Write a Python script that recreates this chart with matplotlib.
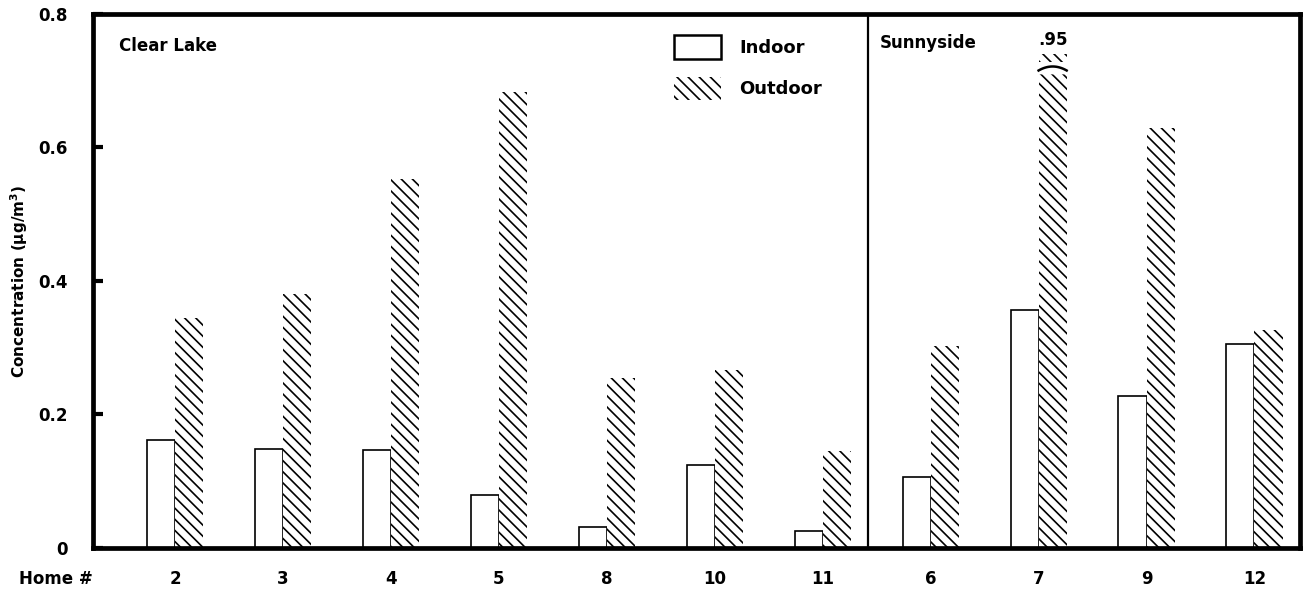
import numpy as np
import matplotlib.pyplot as plt
from matplotlib.patches import Patch, Rectangle

plt.rcParams['font.family'] = ['DejaVu Sans']
plt.rcParams['font.weight'] = 'bold'
plt.rcParams['hatch.linewidth'] = 1.2

homes = ['2', '3', '4', '5', '8', '10', '11', '6', '7', '9', '12']
indoor = [0.162, 0.149, 0.147, 0.080, 0.032, 0.125, 0.026, 0.107, 0.357, 0.228, 0.305]
outdoor = [0.345, 0.381, 0.552, 0.683, 0.254, 0.267, 0.146, 0.303, 0.95, 0.629, 0.326]
sites = ['Clear Lake', 'Sunnyside']
n_clear = 7
ycap = 0.715  # bars taller than this are drawn broken

x = np.arange(len(homes))
w = 0.26

fig = plt.figure(figsize=(13.09, 5.97), dpi=100)
ax = fig.add_axes([0.071, 0.082, 0.922, 0.895])

ax.bar(x - w/2, indoor, w, facecolor='white', edgecolor='black', linewidth=1.2)
shown = np.minimum(outdoor, ycap)
ax.bar(x + w/2, shown, w, facecolor='white', edgecolor='black', linewidth=0, hatch='\\\\\\')

# broken bar marker for values off the scale
for xi, v in zip(x, outdoor):
    if v > ycap:
        xs = np.linspace(xi, xi + w, 30)
        t = (xs - xi - w/2) / (w/2)
        ax.fill_between(xs, ycap - 0.004, ycap + 0.006 * (1 - t**2), color='white', zorder=3)
        ax.plot(xs, ycap + 0.006 * (1 - t**2), color='black', lw=1.8, zorder=4)
        ax.add_patch(Rectangle((xi, ycap + 0.012), w, 0.012, facecolor='white',
                               edgecolor='black', linewidth=0, hatch='\\\\\\', zorder=2))
        ax.text(xi + w/2, ycap + 0.032, '.' + f'{v:.2f}'.split('.')[1], ha='center',
                va='bottom', fontsize=12, fontweight='bold')

ax.axvline(n_clear - 0.58, color='black', lw=1.6)

ax.set_xlim(-0.76, 10.42)
ax.set_ylim(0, 0.8)
ax.set_xticks(x)
ax.set_xticklabels(homes, fontsize=12, fontweight='bold')
ax.tick_params(axis='x', length=0, pad=16)
ax.set_yticks([0, 0.2, 0.4, 0.6, 0.8])
ax.set_yticklabels(['0', '0.2', '0.4', '0.6', '0.8'], fontsize=12, fontweight='bold')
ax.tick_params(axis='y', direction='in', length=7, width=3, pad=18)
for s in ax.spines.values():
    s.set_linewidth(3.4)

ax.set_ylabel('Concentration ($\\mathbf{\\mu}$g/m$^3$)', fontsize=11, fontweight='bold', labelpad=6)
ax.text(-0.031, -0.057, 'Home #', transform=ax.transAxes, ha='center', va='center',
        fontsize=12, fontweight='bold')

ax.text(0.022, 0.93, sites[0], transform=ax.transAxes, fontsize=12, fontweight='bold')
ax.text(0.652, 0.935, sites[1], transform=ax.transAxes, fontsize=12, fontweight='bold')

handles = [Patch(facecolor='white', edgecolor='black', linewidth=1.8, label='Indoor'),
           Patch(facecolor='white', edgecolor='black', linewidth=0, hatch='\\\\\\', label='Outdoor')]
leg = ax.legend(handles=handles, loc='upper left', bbox_to_anchor=(0.468, 0.99), frameon=False,
                prop={'size': 13, 'weight': 'bold'}, handlelength=2.6, handleheight=1.6,
                labelspacing=1.0, handletextpad=1.0)

fig.savefig('out.png', dpi=100)
